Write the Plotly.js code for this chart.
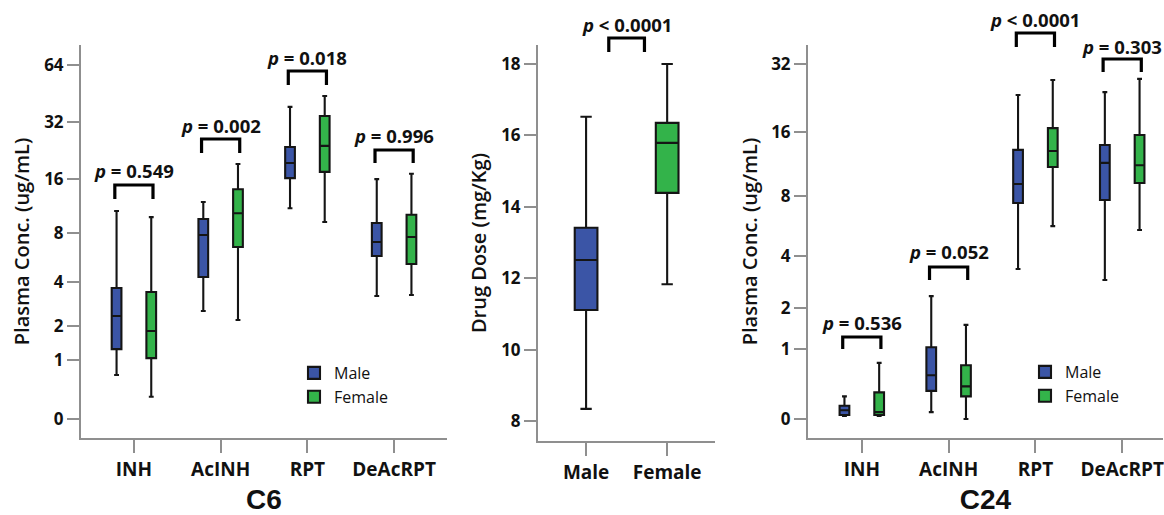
<!DOCTYPE html>
<html><head><meta charset="utf-8">
<script src="https://cdn.plot.ly/plotly-3.0.1.min.js"></script>
<style>html,body{margin:0;padding:0;background:#fff;} #chart{width:1164px;height:515px;}</style>
</head><body><div id="chart"></div>
<script>
// ---------- data ----------
const analytes = ['INH', 'AcINH', 'RPT', 'DeAcRPT'];
const sexes = ['Male', 'Female'];

// C6 plasma concentration (ug/mL)
const c6MaleLow  = [0.68, 2.57, 11.0, 3.26];
const c6MaleQ1   = [1.28, 4.33, 16.1, 5.83];
const c6MaleMed  = [2.37, 7.75, 19.45, 7.06];
const c6MaleQ3   = [3.68, 9.56, 23.7, 9.08];
const c6MaleHigh = [10.6, 11.9, 38.6, 15.9];
const c6FemaleLow  = [0.30, 2.21, 9.2, 3.31];
const c6FemaleQ1   = [1.05, 6.6, 17.4, 5.22];
const c6FemaleMed  = [1.82, 10.3, 24.0, 7.55];
const c6FemaleQ3   = [3.47, 14.0, 34.6, 10.1];
const c6FemaleHigh = [9.8, 19.2, 44.0, 17.0];
const c6P = ['= 0.549', '= 0.002', '= 0.018', '= 0.996'];

// Drug dose (mg/Kg)
const doseLow  = [8.34, 11.83];
const doseQ1   = [11.11, 14.39];
const doseMed  = [12.51, 15.79];
const doseQ3   = [13.41, 16.35];
const doseHigh = [16.52, 18.0];
const doseP = '< 0.0001';

// C24 plasma concentration (ug/mL)
const c24MaleLow  = [0.03, 0.07, 3.39, 2.94];
const c24MaleQ1   = [0.04, 0.32, 7.41, 7.66];
const c24MaleMed  = [0.09, 0.54, 9.15, 11.5];
const c24MaleQ3   = [0.14, 1.03, 13.2, 13.9];
const c24MaleHigh = [0.25, 2.36, 23.4, 24.1];
const c24FemaleLow  = [0.03, 0.0, 5.7, 5.45];
const c24FemaleQ1   = [0.04, 0.25, 11.0, 9.25];
const c24FemaleMed  = [0.07, 0.38, 13.05, 11.2];
const c24FemaleQ3   = [0.30, 0.70, 16.6, 15.45];
const c24FemaleHigh = [0.74, 1.53, 27.3, 27.6];
const c24P = ['= 0.536', '= 0.052', '< 0.0001', '= 0.303'];

const concTicksC6 = [0, 1, 2, 4, 8, 16, 32, 64];
const concTicksC24 = [0, 1, 2, 4, 8, 16, 32];
const doseTicks = [8, 10, 12, 14, 16, 18];

// ---------- styling ----------
const BLUE = '#3b55a6', GREEN = '#33b34a', LINE = '#151515', AXIS = '#8f8f8f';
const FONT = 'Open Sans, Liberation Sans, sans-serif';
const W = 1164, H = 515;
const tf = v => Math.log2(v + 1);          // axis scale: log2(conc + 1)
const id = v => v;
const py = p => 1 - p / H;                 // pixel row -> paper y

function boxTrace(name, x, lo, q1, med, q3, hi, color, t, xa, ya, extra) {
  return Object.assign({
    type: 'box', name: name, x: x,
    lowerfence: lo.map(t), q1: q1.map(t), median: med.map(t), q3: q3.map(t), upperfence: hi.map(t),
    fillcolor: color, line: {color: LINE, width: 2.1}, whiskerwidth: 0.5,
    boxpoints: false, hoverinfo: 'skip', xaxis: xa, yaxis: ya
  }, extra || {});
}

const data = [
  boxTrace('Male', analytes, c6MaleLow, c6MaleQ1, c6MaleMed, c6MaleQ3, c6MaleHigh, BLUE, tf, 'x', 'y',
           {alignmentgroup: 'c6', offsetgroup: 'm', legend: 'legend'}),
  boxTrace('Female', analytes, c6FemaleLow, c6FemaleQ1, c6FemaleMed, c6FemaleQ3, c6FemaleHigh, GREEN, tf, 'x', 'y',
           {alignmentgroup: 'c6', offsetgroup: 'f', legend: 'legend'}),
  boxTrace('Male', [sexes[0]], [doseLow[0]], [doseQ1[0]], [doseMed[0]], [doseQ3[0]], [doseHigh[0]], BLUE, id, 'x2', 'y2',
           {width: 0.28, showlegend: false}),
  boxTrace('Female', [sexes[1]], [doseLow[1]], [doseQ1[1]], [doseMed[1]], [doseQ3[1]], [doseHigh[1]], GREEN, id, 'x2', 'y2',
           {width: 0.28, showlegend: false}),
  boxTrace('Male', analytes, c24MaleLow, c24MaleQ1, c24MaleMed, c24MaleQ3, c24MaleHigh, BLUE, tf, 'x3', 'y3',
           {alignmentgroup: 'c24', offsetgroup: 'm', legend: 'legend2'}),
  boxTrace('Female', analytes, c24FemaleLow, c24FemaleQ1, c24FemaleMed, c24FemaleQ3, c24FemaleHigh, GREEN, tf, 'x3', 'y3',
           {alignmentgroup: 'c24', offsetgroup: 'f', legend: 'legend2'})
];

const xTickFont = {family: FONT, size: 19, weight: 'bold', color: '#111'};
const yTickFont = {family: FONT, size: 17, weight: 'bold', color: '#111'};
function xAxis(dom, yref, range, cats, title) {
  return {
    domain: dom, anchor: yref, type: 'category', categoryorder: 'array', categoryarray: cats,
    range: range, showline: true, linecolor: AXIS, linewidth: 2, ticks: 'outside', ticklen: 13,
    tickwidth: 2, tickcolor: AXIS, tickfont: xTickFont, showgrid: false, zeroline: false, fixedrange: true,
    title: title ? {text: title, font: {family: 'Liberation Sans, Arial, sans-serif', size: 28, weight: 'bold', color: '#111'}, standoff: 13} : {text: ''}
  };
}
function yAxis(dom, xref, range, vals, t, title, standoff) {
  return {
    domain: dom, anchor: xref, range: range, tickmode: 'array',
    tickvals: vals.map(t), ticktext: vals.map(String),
    showline: true, linecolor: AXIS, linewidth: 2, ticks: 'outside', ticklen: 12, tickwidth: 2, tickcolor: AXIS,
    tickfont: yTickFont, showgrid: false, zeroline: false, fixedrange: true,
    title: {text: title, font: {family: FONT, size: 20, weight: 600, color: '#111'}, standoff: standoff}
  };
}

const shapes = [], annotations = [];
function bracket(xref, xc, top, bottom, textY, txt) {
  const a = xc - 0.22, b = xc + 0.22;
  shapes.push({type: 'path', xref: xref, yref: 'paper',
    path: `M${a},${py(bottom)} L${a},${py(top)} L${b},${py(top)} L${b},${py(bottom)}`,
    line: {color: '#000', width: 3.2}});
  annotations.push({xref: xref, yref: 'paper', x: xc, y: py(textY), yanchor: 'middle', xanchor: 'center',
    showarrow: false, text: '<i>p</i> ' + txt,
    font: {family: FONT, size: 18.5, weight: 'bold', color: '#111'}});
}
// bracket rows in pixels: top, leg bottom, text centre
const c6Br = [[185, 199, 171], [139, 153, 125], [71, 85, 57], [150, 163, 135]];
c6Br.forEach((r, i) => bracket('x', i, r[0], r[1], r[2], c6P[i]));
bracket('x2', 0.5, 38, 52, 25, doseP);
const c24Br = [[337, 349, 322], [267, 280, 251], [33, 47, 20], [59, 72, 46]];
c24Br.forEach((r, i) => bracket('x3', i, r[0], r[1], r[2], c24P[i]));

const legFont = {family: FONT, size: 16, color: '#111'};
const layout = {
  width: W, height: H, margin: {l: 0, r: 0, t: 0, b: 0},
  paper_bgcolor: '#fff', plot_bgcolor: '#fff',
  boxmode: 'group', boxgap: 0.2, boxgroupgap: 0.72,
  xaxis: xAxis([81 / W, 447 / W], 'y', [-0.61, 3.61], analytes, 'C6'),
  yaxis: yAxis([py(438), py(45)], 'x', [-0.323, 6.36], concTicksC6, tf, 'Plasma Conc. (ug/mL)', 9),
  xaxis2: xAxis([538 / W, 715 / W], 'y2', [-0.593, 1.59], sexes, ''),
  yaxis2: yAxis([py(441), py(45)], 'x2', [7.44, 18.53], doseTicks, id, 'Drug Dose (mg/Kg)', 9),
  xaxis3: xAxis([808 / W, 1163 / W], 'y3', [-0.62, 3.47], analytes, 'C24'),
  yaxis3: yAxis([py(438), py(45)], 'x3', [-0.27, 5.32], concTicksC24, tf, 'Plasma Conc. (ug/mL)', 8),
  legend: {x: 294 / W, y: py(356), xanchor: 'left', yanchor: 'top', font: legFont, bgcolor: 'rgba(0,0,0,0)',
           tracegroupgap: 0, itemwidth: 30},
  legend2: {x: 1025 / W, y: py(355), xanchor: 'left', yanchor: 'top', font: legFont, bgcolor: 'rgba(0,0,0,0)',
            tracegroupgap: 0, itemwidth: 30},
  shapes: shapes, annotations: annotations, showlegend: true
};

Plotly.newPlot('chart', data, layout, {displayModeBar: false, staticPlot: true});
</script>
</body></html>
